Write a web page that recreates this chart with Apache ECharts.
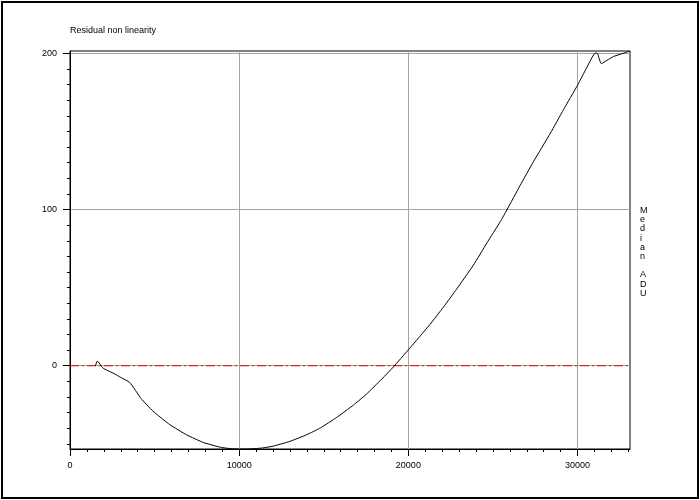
<!DOCTYPE html>
<html>
<head>
<meta charset="utf-8">
<script src="https://cdn.jsdelivr.net/npm/echarts@6/dist/echarts.min.js"></script>
<style>
html,body{margin:0;padding:0;background:#fff;}
#chart{width:700px;height:500px;}
</style>
</head>
<body>
<div id="chart"></div>
<script>
// ---- data ----
var xValues = [1500, 1620, 1950, 2600, 3000, 3530, 4200, 4900, 5900, 6900, 7900, 8900, 9500, 10000, 10500, 11000, 11400, 12000, 13000, 14000, 14800, 15760, 16750, 17500, 18430, 19110, 20000, 20600, 21280, 22070, 22860, 23850, 24640, 25430, 25820, 26610, 27400, 28390, 29170, 30000, 30560, 31050, 31180, 31400, 31740, 32130, 32530, 32920, 33100];
var yValues = [0, 3, -1.5, -5, -7.5, -10.7, -21, -29, -37.7, -44.3, -49.2, -52.2, -53.1, -53.3, -53.3, -53, -52.6, -51.5, -48.4, -44.1, -39.8, -33.1, -25.2, -18.4, -8.5, -0.8, 10.2, 17.8, 26.5, 37.5, 49.2, 64.5, 78.6, 92.2, 99.7, 115.5, 130.8, 148.8, 164, 179.6, 191.2, 200.2, 199.8, 193.4, 195.5, 198, 199.4, 200.8, 201.5];
var xTickLabels = [0, 10000, 20000, 30000];
var yTickLabels = [0, 100, 200];
var referenceLevel = 0;
var xRange = [0, 33100];
var yRange = [-53.3, 201.5];
var titleText = 'Residual non linearity';
var yAxisTitle = 'Median ADU';

var xMinorTicks = [];
for (var v = 1000; v <= xRange[1]; v += 1000) xMinorTicks.push(v);
var yMinorTicks = [];
for (var w = -50; w <= yRange[1]; w += 10) yMinorTicks.push(w);

var seriesData = xValues.map(function (x, i) { return [x, yValues[i]]; });
var referenceData = [[xRange[0], referenceLevel], [xRange[1], referenceLevel]];

var FONT = 'Liberation Sans, Arial, sans-serif';
var gridBox = { left: 70, right: 70, top: 51, bottom: 51 };
var plainNumber = function (val) { return String(val); };

var chart = echarts.init(document.getElementById('chart'), null, { renderer: 'canvas' });
chart.setOption({
  animation: false,
  backgroundColor: '#ffffff',
  title: {
    text: titleText,
    left: 65, top: 21,
    textStyle: { fontFamily: FONT, fontSize: 9, fontWeight: 'normal', color: '#000' }
  },
  graphic: [
    {
      type: 'rect', silent: true, z: 100,
      shape: { x: 2, y: 2, width: 696, height: 496 },
      style: { fill: 'none', stroke: '#000', lineWidth: 2 }
    },
    {
      type: 'text', silent: true, left: 640, top: 206,
      style: {
        text: yAxisTitle.split('').join('\n'),
        font: '9px ' + FONT, fill: '#000', lineHeight: 9.2, align: 'center'
      }
    }
  ],
  grid: [
    Object.assign({ show: true, borderColor: '#000', borderWidth: 1, backgroundColor: 'transparent' }, gridBox),
    Object.assign({ show: false }, gridBox)
  ],
  xAxis: [
    {
      type: 'value', gridIndex: 0, min: xRange[0], max: xRange[1], position: 'bottom',
      axisLine: { show: true, onZero: false, lineStyle: { color: '#000', width: 1 } },
      axisTick: { show: true, length: 7, customValues: xTickLabels, lineStyle: { color: '#000' } },
      axisLabel: { customValues: xTickLabels, formatter: plainNumber, margin: 12, fontFamily: FONT, fontSize: 9, color: '#000' },
      splitLine: { show: true, lineStyle: { color: '#a4a4a4', width: 1 } }
    },
    {
      type: 'value', gridIndex: 1, min: xRange[0], max: xRange[1], position: 'bottom',
      axisLine: { show: false, onZero: false },
      axisTick: { show: true, length: 3, customValues: xMinorTicks, lineStyle: { color: '#000' } },
      axisLabel: { show: false },
      splitLine: { show: false }
    }
  ],
  yAxis: [
    {
      type: 'value', gridIndex: 0, min: yRange[0], max: yRange[1], position: 'left',
      axisLine: { show: true, onZero: false, lineStyle: { color: '#000', width: 1 } },
      axisTick: { show: true, length: 7, customValues: yTickLabels, lineStyle: { color: '#000' } },
      axisLabel: { customValues: yTickLabels, formatter: plainNumber, margin: 13, fontFamily: FONT, fontSize: 9, color: '#000' },
      splitLine: { show: true, lineStyle: { color: '#a4a4a4', width: 1 } }
    },
    {
      type: 'value', gridIndex: 1, min: yRange[0], max: yRange[1], position: 'left',
      axisLine: { show: false, onZero: false },
      axisTick: { show: true, length: 3, customValues: yMinorTicks, lineStyle: { color: '#000' } },
      axisLabel: { show: false },
      splitLine: { show: false }
    }
  ],
  series: [
    {
      name: 'reference', type: 'line', xAxisIndex: 0, yAxisIndex: 0,
      data: referenceData,
      showSymbol: false, symbol: 'none', silent: true,
      lineStyle: { color: '#e00000', width: 1, type: [9, 3, 2, 3] },
      itemStyle: { color: '#e00000' },
      z: 2
    },
    {
      name: 'residual', type: 'line', xAxisIndex: 0, yAxisIndex: 0,
      data: seriesData,
      showSymbol: false, symbol: 'none',
      smooth: 0.15,
      lineStyle: { color: '#000', width: 1 },
      itemStyle: { color: '#000' },
      clip: true,
      z: 3
    }
  ]
});
</script>
</body>
</html>
